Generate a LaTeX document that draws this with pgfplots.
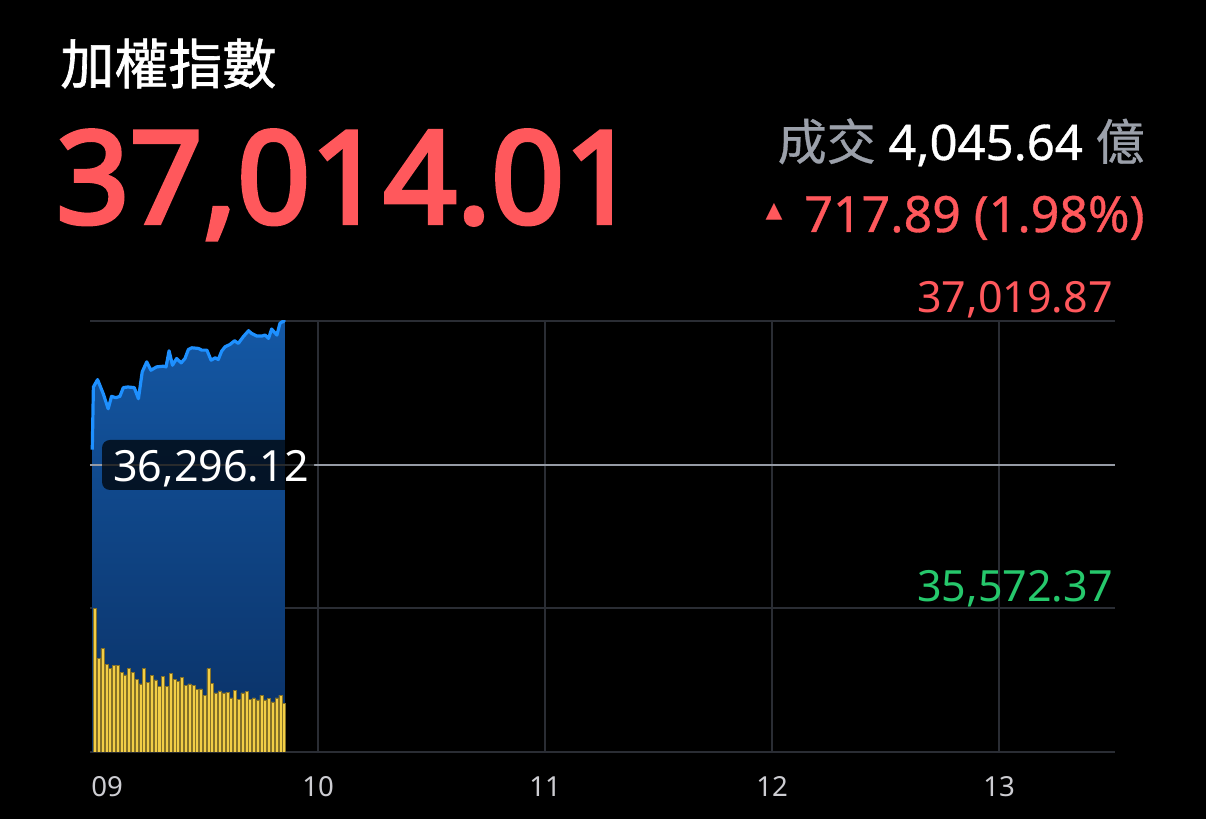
\documentclass[border=0pt]{standalone}
\usepackage{fontspec}
\setmainfont{Noto Sans}
\newfontfamily\cjk{Noto Sans CJK TC}
\newfontfamily\cjkm[FakeBold=1.2]{Noto Sans CJK TC}
\newfontfamily\cjks[FakeBold=0.6]{Noto Sans CJK TC}
\newfontfamily\bignum[FakeBold=3.4]{Noto Sans}
\newfontfamily\medium[FakeBold=0.7]{Noto Sans}
\newfontfamily\dejavu{DejaVu Sans}
\usepackage{pgfplots}
\usepackage{pgfplotstable}
\pgfplotsset{compat=1.18}

\definecolor{twred}{RGB}{255,88,92}
\definecolor{twgreen}{RGB}{38,200,108}
\definecolor{linec}{RGB}{30,144,255}
\definecolor{filltop}{RGB}{20,88,165}
\definecolor{fillbot}{RGB}{10,48,100}
\definecolor{barc}{RGB}{242,206,70}
\definecolor{gridc}{RGB}{42,45,52}
\definecolor{refc}{RGB}{150,155,165}
\definecolor{tickc}{RGB}{205,205,210}
\definecolor{graytxt}{RGB}{155,160,170}

\pgfplotstableread{
m price
0.3 36372
0.6 36687.5
1.7 36724.6
3.2 36653.7
4.5 36577.8
5.4 36640.3
6.5 36633.5
7.6 36640.3
8.5 36684.1
9.7 36687.5
11.4 36684.1
12.5 36628.4
13.5 36763.4
14.7 36814.0
15.8 36771.8
17.3 36788.7
19.1 36792.1
19.8 36788.7
20.6 36869.7
21.5 36797.1
22.6 36830.9
23.8 36808.9
24.8 36830.9
25.7 36876.4
26.6 36884.9
28.4 36881.5
29.2 36873.1
30.6 36873.1
31.7 36822.4
32.8 36834.3
33.6 36825.8
34.5 36868.0
35.4 36889.9
36.7 36901.7
37.9 36920.3
38.9 36906.8
40.2 36940.5
41.6 36970.9
42.4 36957.4
43.8 36943.9
45.1 36943.9
46.0 36949.0
46.9 36932.1
47.7 36979.3
49.1 36949.0
49.9 37008.0
50.8 37019.87
51.2 37014.01
}\pricetable

\pgfplotstableread{
m price
0.3 34848.62
0.3 36372
0.6 36687.5
1.7 36724.6
3.2 36653.7
4.5 36577.8
5.4 36640.3
6.5 36633.5
7.6 36640.3
8.5 36684.1
9.7 36687.5
11.4 36684.1
12.5 36628.4
13.5 36763.4
14.7 36814.0
15.8 36771.8
17.3 36788.7
19.1 36792.1
19.8 36788.7
20.6 36869.7
21.5 36797.1
22.6 36830.9
23.8 36808.9
24.8 36830.9
25.7 36876.4
26.6 36884.9
28.4 36881.5
29.2 36873.1
30.6 36873.1
31.7 36822.4
32.8 36834.3
33.6 36825.8
34.5 36868.0
35.4 36889.9
36.7 36901.7
37.9 36920.3
38.9 36906.8
40.2 36940.5
41.6 36970.9
42.4 36957.4
43.8 36943.9
45.1 36943.9
46.0 36949.0
46.9 36932.1
47.7 36979.3
49.1 36949.0
49.9 37008.0
50.8 37019.87
51.2 37014.01
51.2 34848.62
}\filltable

\pgfplotstableread{
m vol
1 207
2 135
3 149
4 126
5 120
6 125
7 125
8 115
9 111
10 120
11 115
12 105
13 98
14 120
15 100
16 110
17 104
18 94
19 109
20 95
21 113
22 105
23 102
24 107
25 96
26 98
27 96
28 90
29 91
30 81
31 120
32 99
33 85
34 88
35 85
36 86
37 78
38 89
39 76
40 85
41 87
42 76
43 78
44 75
45 82
46 75
47 77
48 72
49 78
50 82
51 70
}\voltable

\begin{document}
\begin{tikzpicture}
\fill[black] (0,0) rectangle (603pt,409.5pt);
\useasboundingbox (0,0) rectangle (603pt,409.5pt);

\begin{axis}[
  at={(45pt,33.5pt)}, anchor=south west, scale only axis,
  width=512.5pt, height=215.5pt,
  xmin=-0.3, xmax=270.6, ymin=34848.62, ymax=37019.87,
  axis line style={draw=none},
  major tick length=0pt,
  xtick={60,120,180,240}, xticklabels={10,11,12,13},
  ytick={34848.62,35572.37,37019.87}, yticklabels={},
  xmajorgrids, ymajorgrids,
  major grid style={draw=gridc, line width=1pt},
  xticklabel style={text=tickc, font=\fontsize{13.8}{14}\selectfont, anchor=base, yshift=-22.5pt},
]
\addplot[draw=none, top color=filltop, bottom color=fillbot] table {\filltable};
\addplot[draw=refc, line width=1pt] coordinates {(-0.3,36296.12) (270.6,36296.12)};
\addplot[draw=linec, line width=1.6pt, line join=round] table {\pricetable};
\end{axis}

\begin{axis}[
  at={(45pt,33.5pt)}, anchor=south west, scale only axis,
  width=512.5pt, height=215.5pt,
  xmin=-0.3, xmax=270.6, ymin=0, ymax=620.6,
  hide axis, ybar, bar width=0.8,
]
\addplot[fill=barc, draw=barc!55!black, line width=0.25pt] table {\voltable};
\end{axis}

% x label for the session start
\node[anchor=base west, inner sep=0pt, text=tickc, font=\fontsize{13.8}{14}\selectfont]
  at (45.5pt,11pt) {09};

% label box for previous close
\fill[black, opacity=0.72, rounded corners=4pt] (51pt,164.5pt) rectangle (157pt,189.5pt);
\node[anchor=base west, inner sep=0pt, text=white, font=\fontsize{21.5}{22}\selectfont]
  at (56.5pt,168.5pt) {36,296.12};

\node[anchor=base east, inner sep=0pt, text=twred, font=\fontsize{21.5}{22}\selectfont]
  at (556.5pt,253pt) {37,019.87};
\node[anchor=base east, inner sep=0pt, text=twgreen, font=\fontsize{21.5}{22}\selectfont]
  at (556.5pt,108.5pt) {35,572.37};

% header
\node[anchor=base west, inner sep=0pt, text=white, font=\cjkm\fontsize{27}{27}\selectfont]
  at (30pt,367.5pt) {加權指數};
\node[anchor=base west, inner sep=0pt, text=twred, font=\bignum\fontsize{64}{64}\selectfont]
  at (28pt,298pt) {37,014.01};
\node[anchor=base east, inner sep=0pt, font=\fontsize{24.5}{25}\selectfont]
  at (572.5pt,329.5pt) {\textcolor{graytxt}{\cjks 成交} \textcolor{white}{\medium 4,045.64} \textcolor{graytxt}{\cjks 億}};
\node[anchor=base east, inner sep=0pt, text=twred, font=\medium\fontsize{25}{25}\selectfont]
  at (572.5pt,293.5pt) {\raisebox{7pt}{\dejavu\fontsize{11}{11}\selectfont ▲}\hspace{11pt}717.89 (1.98\%)};
\end{tikzpicture}
\end{document}
